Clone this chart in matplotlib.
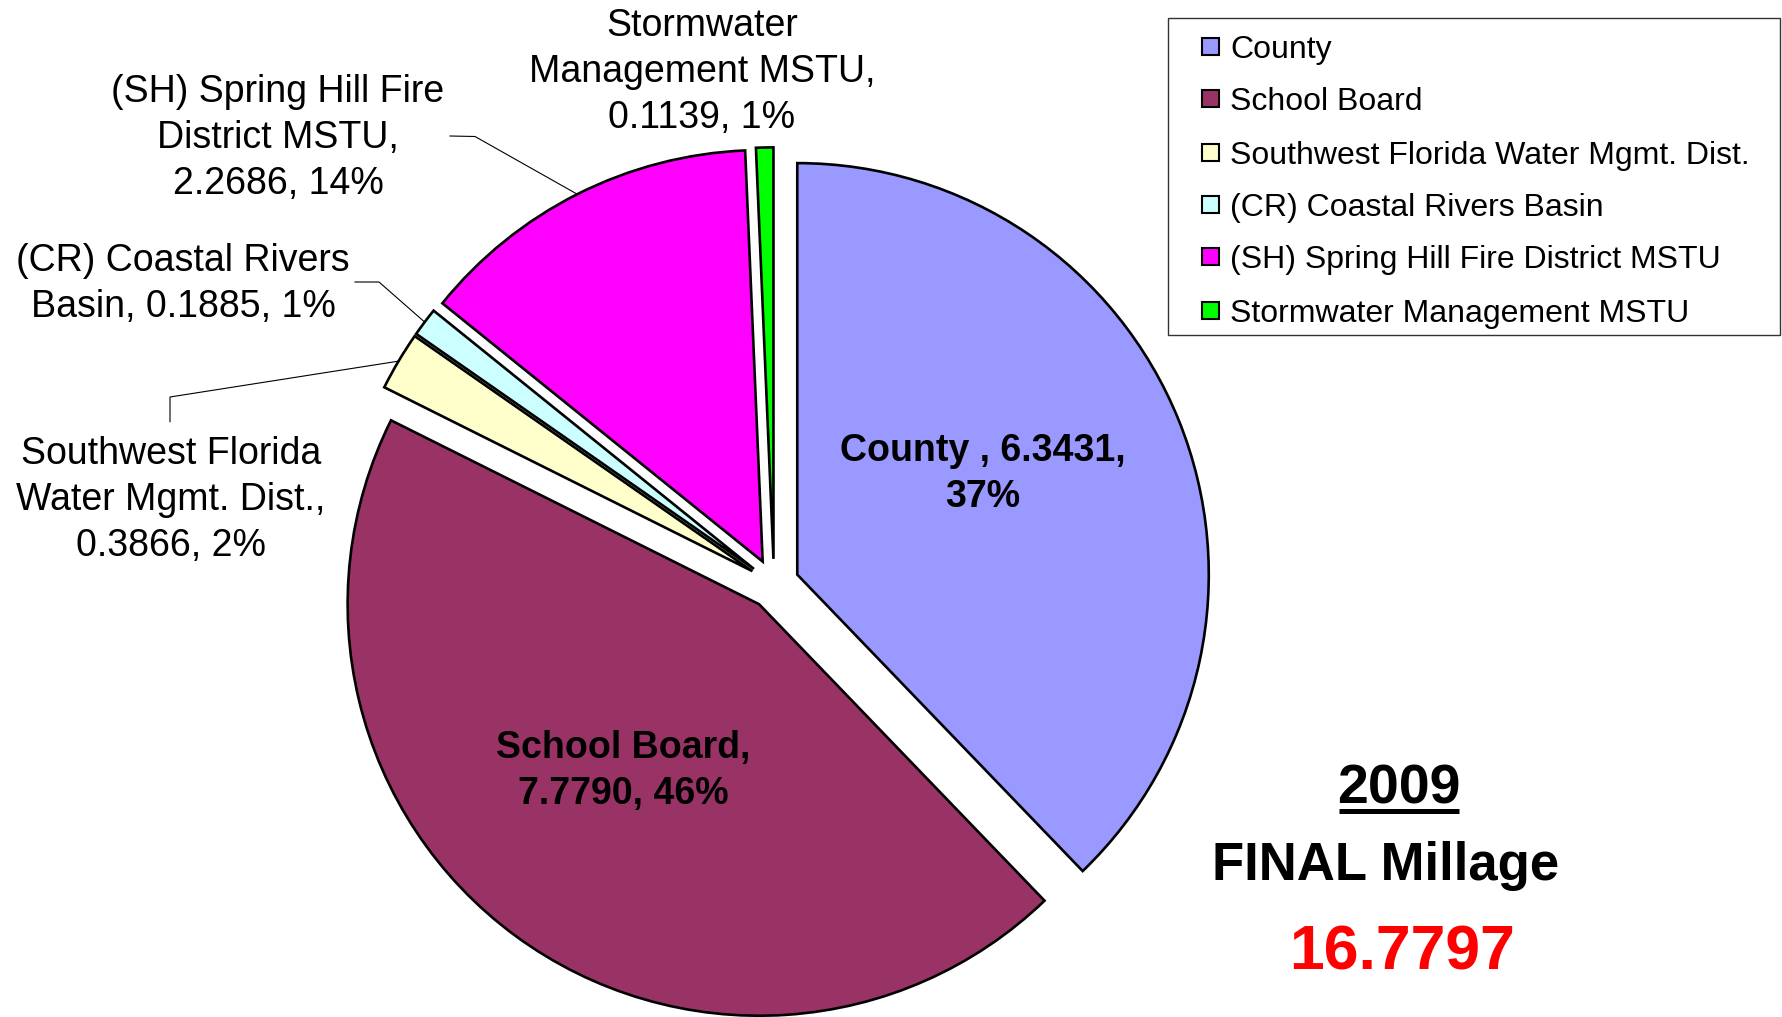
import matplotlib
matplotlib.use('Agg')
import matplotlib.pyplot as plt
from matplotlib.patches import Rectangle
import numpy as np

plt.rcParams['font.family'] = ['Liberation Sans', 'DejaVu Sans']

# ---- data ----
categories = ['County', 'School Board', 'Southwest Florida Water Mgmt. Dist.',
              '(CR) Coastal Rivers Basin', '(SH) Spring Hill Fire District MSTU',
              'Stormwater Management MSTU']
millage = [6.3431, 7.4790, 0.3866, 0.1885, 2.2686, 0.1139]   # slice sizes as drawn
label_values = ['6.3431', '7.7790', '0.3866', '0.1885', '2.2686', '0.1139']
label_pcts = ['37%', '46%', '2%', '1%', '14%', '1%']
colors = ['#9999FF', '#993366', '#FFFFCC', '#CCFFFF', '#FF00FF', '#00FF00']
year = '2009'
subtitle = 'FINAL Millage'
total_text = '16.7797'

W, H = 1782, 1017
fig = plt.figure(figsize=(W / 100, H / 100), dpi=100)
ax = fig.add_axes([0, 0, 1, 1])

R = 411.5
wedges, _ = ax.pie(millage, colors=colors, startangle=90, counterclock=False,
                   explode=[0.061 * R] * len(millage), center=(774, H - 584), radius=R,
                   wedgeprops=dict(edgecolor='black', linewidth=1.9))
ax.set_xlim(0, W)
ax.set_ylim(0, H)
ax.axis('off')

def Y(y):
    return H - y

label_text = [
    f'County , {label_values[0]},\n{label_pcts[0]}',
    f'School Board,\n{label_values[1]}, {label_pcts[1]}',
    f'Southwest Florida\nWater Mgmt. Dist.,\n{label_values[2]}, {label_pcts[2]}',
    f'(CR) Coastal Rivers\nBasin, {label_values[3]}, {label_pcts[3]}',
    f'(SH) Spring Hill Fire\nDistrict MSTU,\n{label_values[4]}, {label_pcts[4]}',
    f'Stormwater\nManagement MSTU,\n{label_values[5]}, {label_pcts[5]}',
]
label_pos = [(983, 474), (623, 771), (171, 500), (183, 284), (278, 138), (702, 72)]
label_bold = [True, True, False, False, False, False]

for txt, (x, y), b in zip(label_text, label_pos, label_bold):
    ax.text(x, Y(y), txt, ha='center', va='center', fontsize=27,
            fontweight='bold' if b else 'normal', linespacing=1.36, multialignment='center')

def arc_mid(w):
    th = np.deg2rad((w.theta1 + w.theta2) / 2)
    return (w.center[0] + w.r * np.cos(th), w.center[1] + w.r * np.sin(th))

knees = {2: [(170, 421.7), (170, 397)], 3: [(355, 282), (379, 282)], 4: [(450, 136), (475, 136.5)]}
for i, pts in knees.items():
    ax_, ay_ = arc_mid(wedges[i])
    xs = [p[0] for p in pts] + [ax_]
    ys = [Y(p[1]) for p in pts] + [ay_]
    ax.plot(xs, ys, color='black', linewidth=0.8)

# ---- legend (manual) ----
ax.add_patch(Rectangle((1168, Y(335)), 1780 - 1168, 335 - 18, facecolor='white',
                       edgecolor='#333333', linewidth=1.0))
row_y = [46.6, 98.9, 152.3, 204.6, 256.9, 310.3]
for cat, col, ry in zip(categories, colors, row_y):
    ax.add_patch(Rectangle((1202, Y(ry) - 8.5), 17, 17, facecolor=col, edgecolor='black', linewidth=1.5))
    ax.text(1230, Y(ry + 11.4), cat, ha='left', va='baseline', fontsize=23)

# ---- title block ----
ax.text(1399, Y(803), year, ha='center', va='baseline', fontsize=40, fontweight='bold')
ax.plot([1339, 1459], [Y(810.5), Y(810.5)], color='black', linewidth=3.6, solid_capstyle='butt')
ax.text(1386, Y(880), subtitle, ha='center', va='baseline', fontsize=38, fontweight='bold')
ax.text(1402, Y(970), total_text, ha='center', va='baseline', fontsize=45, fontweight='bold', color='#FF0000')

fig.savefig('out.png', dpi=100, facecolor='white')
